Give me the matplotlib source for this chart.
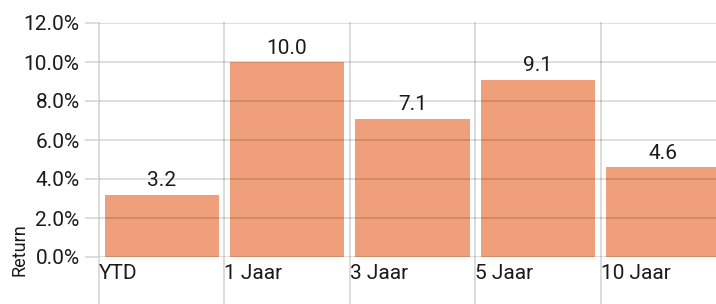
import matplotlib
matplotlib.use("Agg")
import matplotlib.pyplot as plt
import matplotlib.ticker as mticker
import matplotlib.transforms as mtransforms

categories = ["YTD", "1 Jaar", "3 Jaar", "5 Jaar", "10 Jaar"]
returns = [3.2, 10.0, 7.1, 9.1, 4.6]
yticks = [0, 2, 4, 6, 8, 10, 12]

plt.rcParams['font.family'] = ['Roboto', 'DejaVu Sans']

W, H = 716, 304
fig = plt.figure(figsize=(W / 100, H / 100), dpi=100)
# plot area runs past the right edge of the picture, like the original
ax = fig.add_axes([99 / W, (H - 257) / H, 627 / W, 234 / H])

x = list(range(len(categories)))
ax.bar(x, returns, width=0.91, color='#EFA07A', zorder=1)

ax.set_xlim(-0.5, len(categories) - 0.5)
ax.set_ylim(0, 12)
ax.set_yticks(yticks)
ax.yaxis.set_major_formatter(mticker.FuncFormatter(lambda v, p: f"{v:.1f}%"))
ax.tick_params(axis='y', length=10, width=1.4, color='#dcdcdc', pad=4,
               labelsize=15, labelcolor='#1a1a1a')
ax.set_xticks([])
for s in ax.spines.values():
    s.set_visible(False)

# horizontal grid on top of bars, semi-transparent
for v in yticks:
    ax.axhline(v, color=(0, 0, 0, 0.13), lw=1.4, zorder=3)

# vertical separators, going down past the axis
for i in range(len(categories) + 1):
    ax.axvline(i - 0.5, ymin=-0.25, ymax=1, color='#dcdcdc', lw=1.4,
               zorder=0, clip_on=False)

trans = mtransforms.blended_transform_factory(ax.transData, ax.transAxes)
for i, c in enumerate(categories):
    ax.text(i - 0.5, -0.07, c, transform=trans, ha='left', va='center',
            fontsize=15, color='#1a1a1a')

for i, v in enumerate(returns):
    ax.annotate(f"{v:.1f}", (i, v), xytext=(0, 3), textcoords='offset points',
                ha='center', va='bottom', fontsize=15, color='#1a1a1a')

fig.text(20 / W, (H - 250) / H, "Return", rotation=90, ha='center', va='center',
         fontsize=13, color='#1a1a1a')

fig.savefig("out.png", dpi=100)
